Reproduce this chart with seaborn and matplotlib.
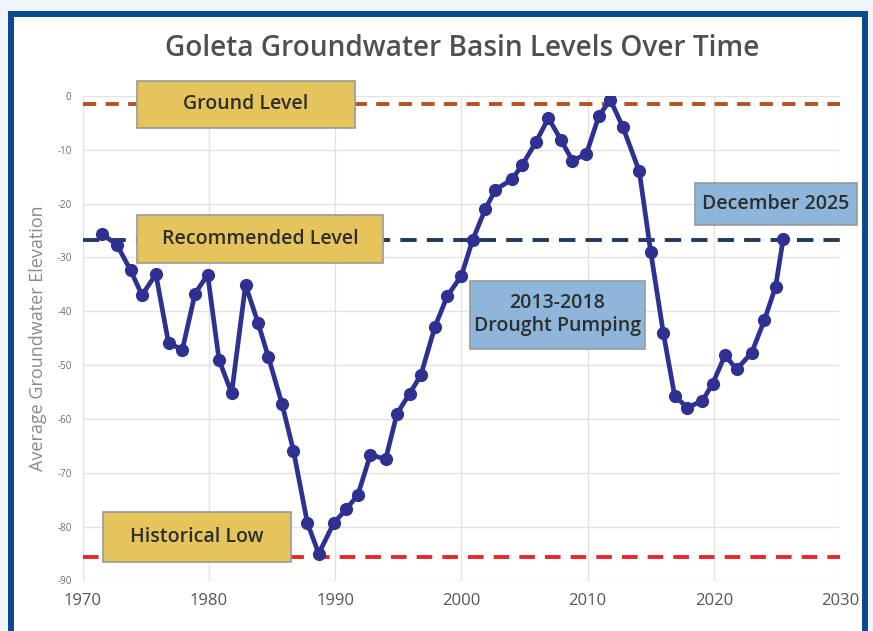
import numpy as np
import pandas as pd
import seaborn as sns
from matplotlib import pyplot as plt
from matplotlib.patches import Rectangle

# readings (decimal year, average elevation)
years = [1971.5, 1972.7, 1973.8, 1974.7, 1975.8, 1976.8, 1977.9, 1978.9, 1979.9, 1980.8,
         1981.8, 1982.9, 1983.9, 1984.7, 1985.8, 1986.7, 1987.8, 1988.7, 1989.9, 1990.9,
         1991.8, 1992.8, 1994.0, 1994.9, 1995.9, 1996.8, 1997.9, 1998.9, 2000.0, 2000.9,
         2001.9, 2002.7, 2004.0, 2004.8, 2005.9, 2006.9, 2007.9, 2008.8, 2009.9, 2010.9,
         2011.8, 2012.8, 2014.1, 2015.0, 2016.0, 2016.9, 2017.9, 2019.1, 2019.9, 2020.9,
         2021.8, 2023.0, 2024.0, 2024.9, 2025.5]
levels = [-25.6, -27.6, -32.4, -37.0, -33.1, -45.9, -47.1, -36.7, -33.2, -49.0,
          -55.2, -35.1, -42.2, -48.4, -57.3, -65.9, -79.3, -85.0, -79.3, -76.7,
          -74.1, -66.6, -67.5, -59.0, -55.3, -51.8, -42.9, -37.1, -33.4, -26.7,
          -21.0, -17.4, -15.5, -12.9, -8.6, -4.1, -8.2, -12.0, -10.8, -3.7,
          -0.7, -5.8, -14.0, -28.9, -44.0, -55.7, -57.9, -56.6, -53.5, -48.1,
          -50.8, -47.7, -41.7, -35.4, -26.5]

ground_level = -1.5
recommended_level = -26.7
historical_low = -85.7

x_ticks = [1970, 1980, 1990, 2000, 2010, 2020, 2030]
y_ticks = [0, -10, -20, -30, -40, -50, -60, -70, -80, -90]

df = pd.DataFrame({"year": years, "level": levels})

sns.set_theme(style="whitegrid")
plt.rcParams["font.family"] = ["Open Sans", "DejaVu Sans"]

W, H = 873, 631
fig = plt.figure(figsize=(W / 100, H / 100), dpi=100)
fig.patch.set_facecolor("#EEF5FC")

# white panel with dark blue frame
fig.add_artist(Rectangle((11 / W, -0.05), 854 / W, (H - 14) / H + 0.05,
                         transform=fig.transFigure, facecolor="white",
                         edgecolor="#0B4A8E", linewidth=4.3, zorder=0))

x0, x1, ytop, ybot = 82.7, 840, 96, 580.5
ax = fig.add_axes([x0 / W, (H - ybot) / H, (x1 - x0) / W, (ybot - ytop) / H])
ax.set_facecolor("none")

ax.axhline(ground_level, color="#B5531F", lw=2.8, dashes=(3.4, 2.4), zorder=2)
ax.axhline(recommended_level, color="#1F3A63", lw=2.8, dashes=(4.2, 2.6), zorder=2)
ax.axhline(historical_low, color="#E8262B", lw=2.8, dashes=(4.0, 2.6), zorder=2)

sns.lineplot(data=df, x="year", y="level", ax=ax, color="#2E3192", linewidth=3.4,
             marker="o", markersize=9.5, markeredgewidth=0, sort=False,
             errorbar=None, zorder=3)

ax.set_xlim(1970, 2030)
ax.set_ylim(-90, 0)
ax.set_xticks(x_ticks)
ax.set_yticks(y_ticks)
ax.set_yticklabels([str(v) for v in y_ticks], fontsize=7, color="#6E6E6E")
ax.set_xticklabels([str(v) for v in x_ticks], fontsize=12, color="#555555")
ax.tick_params(axis="both", length=0)
ax.tick_params(axis="y", pad=8)
ax.tick_params(axis="x", pad=9)
ax.grid(True, color="#E3E3E3", linewidth=1.0)
for s in ax.spines.values():
    s.set_visible(False)
ax.set_xlabel("")
ax.set_ylabel("Average Groundwater Elevation", fontsize=13, color="#8A8A8A", labelpad=7)

fig.text(462 / W, 1 - 48 / H, "Goleta Groundwater Basin Levels Over Time",
         ha="center", va="center", fontsize=20.2, color="#505050", fontweight="semibold")


def label_box(xa, xb, ya, yb, text, face):
    # box given in pixel coordinates of the figure
    ax_px = lambda px: 1970 + (px - x0) / (x1 - x0) * 60
    ay_px = lambda py: -(py - ytop) / (ybot - ytop) * 90
    bx, by = ax_px(xa), ay_px(yb)
    ax.add_patch(Rectangle((bx, by), ax_px(xb) - bx, ay_px(ya) - by, facecolor=face,
                           edgecolor="#9A9A9A", linewidth=1.2, clip_on=False, zorder=4))
    ax.text((bx + ax_px(xb)) / 2, (by + ay_px(ya)) / 2, text, ha="center", va="center",
            fontsize=14, color="#2E2E2E", fontweight="semibold", linespacing=1.2,
            clip_on=False, zorder=5)


gold = "#E6C45C"
blue = "#8DB6DA"
label_box(137, 355, 81, 128, "Ground Level", gold)
label_box(137, 383, 215, 263, "Recommended Level", gold)
label_box(103, 291, 512, 562, "Historical Low", gold)
label_box(470, 645, 281, 349, "2013-2018\nDrought Pumping", blue)
label_box(695, 857, 183, 225, "December 2025", blue)

plt.savefig("out.png", dpi=100, facecolor=fig.get_facecolor())
